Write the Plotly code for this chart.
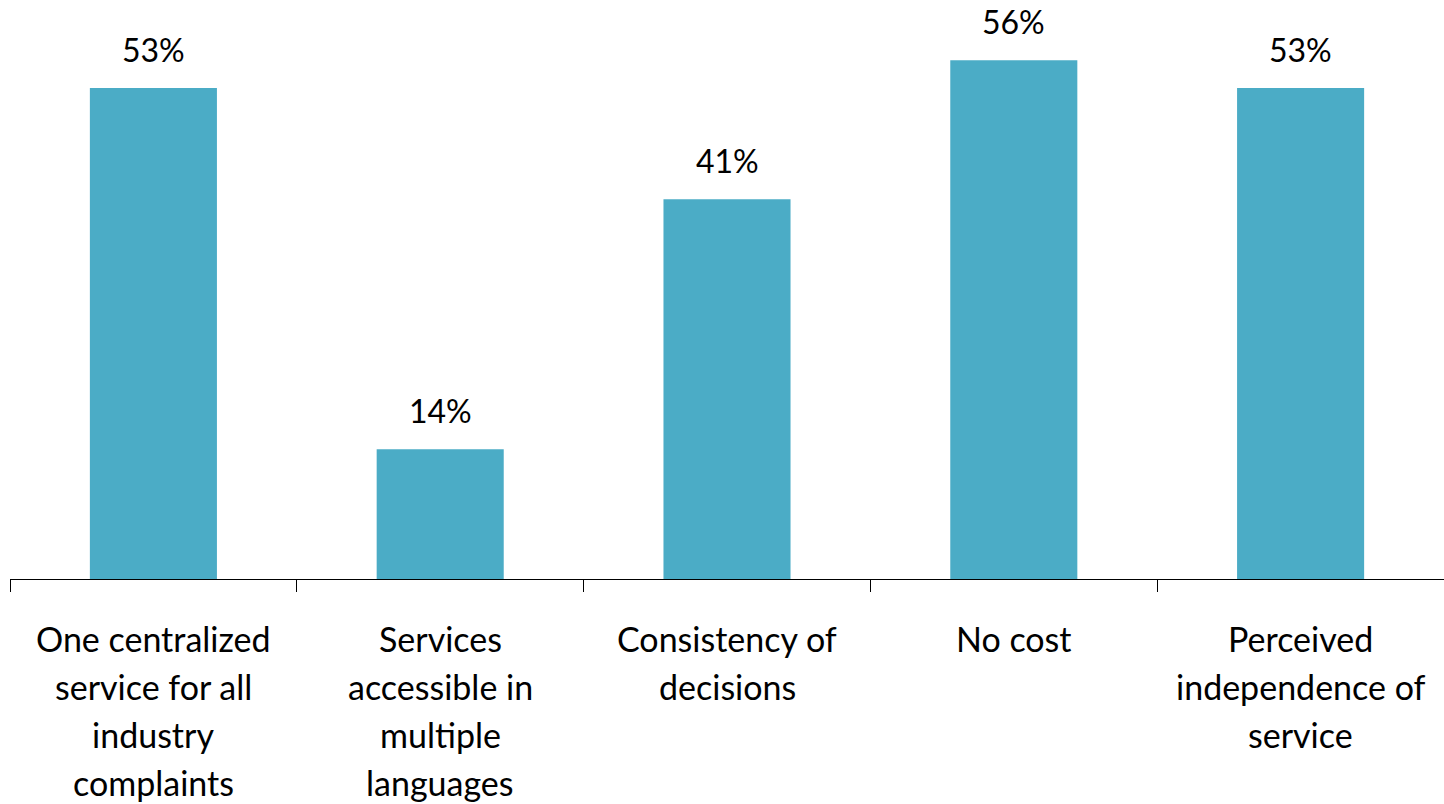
import plotly.graph_objects as go

# Share of respondents valuing each feature of a complaints service
categories = [
    "One centralized service for all industry complaints",
    "Services accessible in multiple languages",
    "Consistency of decisions",
    "No cost",
    "Perceived independence of service",
]
label_lines = [
    ["One centralized", "service for all", "industry", "complaints"],
    ["Services", "accessible in", "multiple", "languages"],
    ["Consistency of", "decisions"],
    ["No cost"],
    ["Perceived", "independence of", "service"],
]
values = [53, 14, 41, 56, 53]

BAR_COLOR = "#4BACC6"
FONT = "Lato"

fig = go.Figure(
    go.Bar(
        x=categories,
        y=values,
        marker=dict(color=BAR_COLOR, line=dict(width=0)),
        width=0.443,
        hoverinfo="skip",
    )
)

annotations = []
# value labels above each bar
for cat, v in zip(categories, values):
    annotations.append(dict(
        x=cat, y=v, xref="x", yref="y", text=f"{v}%", showarrow=False,
        yanchor="bottom", yshift=17, font=dict(family=FONT, size=32, color="#000000"),
    ))
# multi-line category labels under the axis
LINE_H = 48
for cat, lines in zip(categories, label_lines):
    for i, line in enumerate(lines):
        annotations.append(dict(
            x=cat, y=0, xref="x", yref="y", text=line, showarrow=False,
            yanchor="middle", yshift=-(59 + i * LINE_H),
            font=dict(family=FONT, size=34, color="#000000"),
        ))

fig.update_layout(
    width=1444, height=804,
    margin=dict(l=10, r=0, t=0, b=225),
    paper_bgcolor="white", plot_bgcolor="white",
    showlegend=False,
    annotations=annotations,
    xaxis=dict(
        type="category", showticklabels=False, tickson="boundaries",
        ticks="outside", ticklen=12, tickcolor="#000000", tickwidth=1,
        showline=True, linecolor="#000000", linewidth=1, showgrid=False,
    ),
    yaxis=dict(range=[0, 62.5], visible=False, showgrid=False, zeroline=False),
)

fig.write_html("out.html")
